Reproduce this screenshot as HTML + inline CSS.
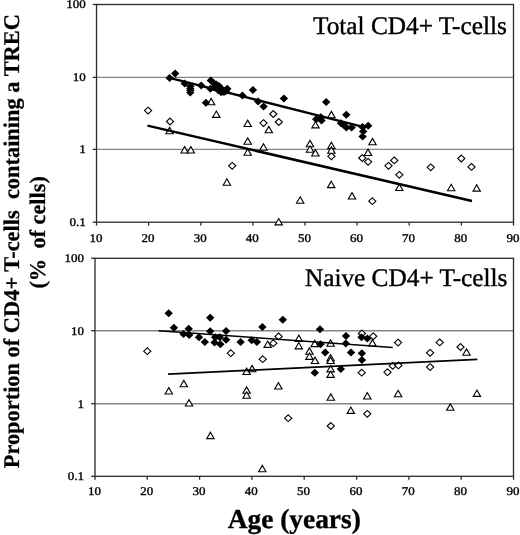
<!DOCTYPE html>
<html><head><meta charset="utf-8"><style>
html,body{margin:0;padding:0;background:#fff;}
body{width:520px;height:535px;overflow:hidden;}
svg{display:block;filter:grayscale(1) blur(0.3px);}
.g{stroke:#858585;stroke-width:1.4;}
.fr{fill:none;stroke:#2a2a2a;stroke-width:1.3;}
.a{stroke:#2a2a2a;stroke-width:1.3;}
.r1{stroke:#000;stroke-width:2.5;}
.r2{stroke:#000;stroke-width:1.7;}
.r3{stroke:#000;stroke-width:1.5;}
.f{fill:#000;stroke:none;}
.o{fill:#fff;stroke:#000;stroke-width:1.1;stroke-linejoin:miter;}
text{font-family:"Liberation Serif",serif;fill:#000;text-rendering:geometricPrecision;}
.t{font-size:11.8px;stroke:#000;stroke-width:0.35px;}
.title{font-size:25.3px;stroke:#000;stroke-width:0.4px;}
.yl{font-size:22.4px;font-weight:bold;stroke:#000;stroke-width:0.25px;}
.yl2{font-size:22.3px;font-weight:bold;stroke:#000;stroke-width:0.25px;}
.xl{font-size:27.4px;font-weight:bold;stroke:#000;stroke-width:0.35px;}
</style></head><body>
<svg width="520" height="535" viewBox="0 0 520 535">
<rect width="520" height="535" fill="#fff"/>
<line x1="96.5" y1="77.4" x2="513.5" y2="77.4" class="g"/>
<line x1="96.5" y1="149.4" x2="513.5" y2="149.4" class="g"/>
<rect x="96.5" y="4.5" width="417.0" height="217.7" class="fr"/>
<line x1="92.7" y1="4.5" x2="96.5" y2="4.5" class="a"/>
<line x1="92.7" y1="77.4" x2="96.5" y2="77.4" class="a"/>
<line x1="92.7" y1="149.4" x2="96.5" y2="149.4" class="a"/>
<line x1="92.7" y1="222.2" x2="96.5" y2="222.2" class="a"/>
<line x1="96.5" y1="222.2" x2="96.5" y2="225.6" class="a"/>
<line x1="148.6" y1="222.2" x2="148.6" y2="225.6" class="a"/>
<line x1="200.8" y1="222.2" x2="200.8" y2="225.6" class="a"/>
<line x1="252.9" y1="222.2" x2="252.9" y2="225.6" class="a"/>
<line x1="305.0" y1="222.2" x2="305.0" y2="225.6" class="a"/>
<line x1="357.1" y1="222.2" x2="357.1" y2="225.6" class="a"/>
<line x1="409.2" y1="222.2" x2="409.2" y2="225.6" class="a"/>
<line x1="461.4" y1="222.2" x2="461.4" y2="225.6" class="a"/>
<line x1="513.5" y1="222.2" x2="513.5" y2="225.6" class="a"/>
<text transform="translate(85.8,8.4) scale(1.1,1)" class="t" text-anchor="end">100</text>
<text transform="translate(85.8,81.3) scale(1.1,1)" class="t" text-anchor="end">10</text>
<text transform="translate(85.8,153.3) scale(1.1,1)" class="t" text-anchor="end">1</text>
<text transform="translate(85.8,226.1) scale(1.1,1)" class="t" text-anchor="end">0.1</text>
<text transform="translate(95.9,242.4) scale(1.1,1)" class="t" text-anchor="middle">10</text>
<text transform="translate(148.0,242.4) scale(1.1,1)" class="t" text-anchor="middle">20</text>
<text transform="translate(200.2,242.4) scale(1.1,1)" class="t" text-anchor="middle">30</text>
<text transform="translate(252.3,242.4) scale(1.1,1)" class="t" text-anchor="middle">40</text>
<text transform="translate(304.4,242.4) scale(1.1,1)" class="t" text-anchor="middle">50</text>
<text transform="translate(356.5,242.4) scale(1.1,1)" class="t" text-anchor="middle">60</text>
<text transform="translate(408.6,242.4) scale(1.1,1)" class="t" text-anchor="middle">70</text>
<text transform="translate(460.8,242.4) scale(1.1,1)" class="t" text-anchor="middle">80</text>
<text transform="translate(512.9,242.4) scale(1.1,1)" class="t" text-anchor="middle">90</text>
<text x="313" y="33.6" class="title">Total CD4+ T-cells</text>
<line x1="95.0" y1="330.7" x2="513.5" y2="330.7" class="g"/>
<line x1="95.0" y1="403.7" x2="513.5" y2="403.7" class="g"/>
<rect x="95.0" y="258.3" width="418.5" height="218.0" class="fr"/>
<line x1="91.2" y1="258.3" x2="95.0" y2="258.3" class="a"/>
<line x1="91.2" y1="330.7" x2="95.0" y2="330.7" class="a"/>
<line x1="91.2" y1="403.7" x2="95.0" y2="403.7" class="a"/>
<line x1="91.2" y1="476.3" x2="95.0" y2="476.3" class="a"/>
<line x1="95.0" y1="476.3" x2="95.0" y2="479.7" class="a"/>
<line x1="147.3" y1="476.3" x2="147.3" y2="479.7" class="a"/>
<line x1="199.6" y1="476.3" x2="199.6" y2="479.7" class="a"/>
<line x1="251.9" y1="476.3" x2="251.9" y2="479.7" class="a"/>
<line x1="304.2" y1="476.3" x2="304.2" y2="479.7" class="a"/>
<line x1="356.6" y1="476.3" x2="356.6" y2="479.7" class="a"/>
<line x1="408.9" y1="476.3" x2="408.9" y2="479.7" class="a"/>
<line x1="461.2" y1="476.3" x2="461.2" y2="479.7" class="a"/>
<line x1="513.5" y1="476.3" x2="513.5" y2="479.7" class="a"/>
<text transform="translate(84.0,262.2) scale(1.1,1)" class="t" text-anchor="end">100</text>
<text transform="translate(84.0,334.6) scale(1.1,1)" class="t" text-anchor="end">10</text>
<text transform="translate(84.0,407.6) scale(1.1,1)" class="t" text-anchor="end">1</text>
<text transform="translate(84.0,480.2) scale(1.1,1)" class="t" text-anchor="end">0.1</text>
<text transform="translate(94.4,495.0) scale(1.1,1)" class="t" text-anchor="middle">10</text>
<text transform="translate(146.7,495.0) scale(1.1,1)" class="t" text-anchor="middle">20</text>
<text transform="translate(199.0,495.0) scale(1.1,1)" class="t" text-anchor="middle">30</text>
<text transform="translate(251.3,495.0) scale(1.1,1)" class="t" text-anchor="middle">40</text>
<text transform="translate(303.6,495.0) scale(1.1,1)" class="t" text-anchor="middle">50</text>
<text transform="translate(356.0,495.0) scale(1.1,1)" class="t" text-anchor="middle">60</text>
<text transform="translate(408.3,495.0) scale(1.1,1)" class="t" text-anchor="middle">70</text>
<text transform="translate(460.6,495.0) scale(1.1,1)" class="t" text-anchor="middle">80</text>
<text transform="translate(512.9,495.0) scale(1.1,1)" class="t" text-anchor="middle">90</text>
<text x="304.9" y="286.3" class="title">Naive CD4+ T-cells</text>
<path d="M148.1 107.2L151.7 110.6L148.1 114.0L144.5 110.6Z" class="o"/>
<path d="M170.0 118.1L173.6 121.5L170.0 124.9L166.4 121.5Z" class="o"/>
<path d="M232.2 162.4L235.8 165.8L232.2 169.2L228.6 165.8Z" class="o"/>
<path d="M263.5 119.7L267.1 123.1L263.5 126.5L259.9 123.1Z" class="o"/>
<path d="M273.3 110.6L276.9 114.0L273.3 117.4L269.7 114.0Z" class="o"/>
<path d="M278.8 118.6L282.4 122.0L278.8 125.4L275.2 122.0Z" class="o"/>
<path d="M331.4 152.9L335.0 156.3L331.4 159.7L327.8 156.3Z" class="o"/>
<path d="M362.3 154.6L365.9 158.0L362.3 161.4L358.7 158.0Z" class="o"/>
<path d="M368.1 158.4L371.7 161.8L368.1 165.2L364.5 161.8Z" class="o"/>
<path d="M372.3 197.8L375.9 201.2L372.3 204.6L368.7 201.2Z" class="o"/>
<path d="M388.5 162.4L392.1 165.8L388.5 169.2L384.9 165.8Z" class="o"/>
<path d="M394.2 157.0L397.8 160.4L394.2 163.8L390.6 160.4Z" class="o"/>
<path d="M399.3 171.4L402.9 174.8L399.3 178.2L395.7 174.8Z" class="o"/>
<path d="M430.7 163.9L434.3 167.3L430.7 170.7L427.1 167.3Z" class="o"/>
<path d="M461.3 155.1L464.9 158.5L461.3 161.9L457.7 158.5Z" class="o"/>
<path d="M471.5 163.5L475.1 166.9L471.5 170.3L467.9 166.9Z" class="o"/>
<path d="M169.6 127.4L173.3 133.8L165.9 133.8Z" class="o"/>
<path d="M184.6 146.6L188.3 153.0L180.9 153.0Z" class="o"/>
<path d="M190.8 146.6L194.5 153.0L187.1 153.0Z" class="o"/>
<path d="M211.1 98.4L214.8 104.8L207.4 104.8Z" class="o"/>
<path d="M216.3 111.0L220.0 117.4L212.6 117.4Z" class="o"/>
<path d="M226.9 178.8L230.6 185.2L223.2 185.2Z" class="o"/>
<path d="M247.7 120.1L251.4 126.5L244.0 126.5Z" class="o"/>
<path d="M247.7 137.9L251.4 144.3L244.0 144.3Z" class="o"/>
<path d="M247.7 148.9L251.4 155.3L244.0 155.3Z" class="o"/>
<path d="M263.5 143.7L267.2 150.1L259.8 150.1Z" class="o"/>
<path d="M268.8 126.4L272.5 132.8L265.1 132.8Z" class="o"/>
<path d="M278.7 218.5L282.4 224.9L275.0 224.9Z" class="o"/>
<path d="M300.2 196.8L303.9 203.2L296.5 203.2Z" class="o"/>
<path d="M310.0 140.4L313.7 146.8L306.3 146.8Z" class="o"/>
<path d="M310.0 145.8L313.7 152.2L306.3 152.2Z" class="o"/>
<path d="M315.5 121.5L319.2 127.9L311.8 127.9Z" class="o"/>
<path d="M315.4 149.6L319.1 156.0L311.7 156.0Z" class="o"/>
<path d="M331.4 111.4L335.1 117.8L327.7 117.8Z" class="o"/>
<path d="M331.4 142.2L335.1 148.6L327.7 148.6Z" class="o"/>
<path d="M331.4 146.9L335.1 153.3L327.7 153.3Z" class="o"/>
<path d="M331.2 181.2L334.9 187.6L327.5 187.6Z" class="o"/>
<path d="M352.0 192.6L355.7 199.0L348.3 199.0Z" class="o"/>
<path d="M368.0 149.1L371.7 155.5L364.3 155.5Z" class="o"/>
<path d="M372.5 138.4L376.2 144.8L368.8 144.8Z" class="o"/>
<path d="M399.3 184.1L403.0 190.5L395.6 190.5Z" class="o"/>
<path d="M451.2 184.3L454.9 190.7L447.5 190.7Z" class="o"/>
<path d="M476.7 184.7L480.4 191.1L473.0 191.1Z" class="o"/>
<path d="M169.6 74.1L173.8 78.1L169.6 82.1L165.4 78.1ZM175.2 69.5L179.4 73.5L175.2 77.5L171.0 73.5ZM184.7 79.4L188.9 83.4L184.7 87.4L180.5 83.4ZM190.3 82.4L194.5 86.4L190.3 90.4L186.1 86.4ZM201.2 81.6L205.4 85.6L201.2 89.6L197.0 85.6ZM210.8 76.4L215.0 80.4L210.8 84.4L206.6 80.4ZM210.4 84.8L214.6 88.8L210.4 92.8L206.2 88.8ZM216.2 80.4L220.4 84.4L216.2 88.4L212.0 84.4ZM221.2 88.2L225.4 92.2L221.2 96.2L217.0 92.2ZM221.5 84.8L225.7 88.8L221.5 92.8L217.3 88.8ZM227.3 84.8L231.5 88.8L227.3 92.8L223.1 88.8ZM205.9 98.7L210.1 102.7L205.9 106.7L201.7 102.7ZM242.4 91.5L246.6 95.5L242.4 99.5L238.2 95.5ZM252.9 85.9L257.1 89.9L252.9 93.9L248.7 89.9ZM258.1 97.4L262.3 101.4L258.1 105.4L253.9 101.4ZM263.6 102.5L267.8 106.5L263.6 110.5L259.4 106.5ZM283.9 94.5L288.1 98.5L283.9 102.5L279.7 98.5ZM326.2 98.0L330.4 102.0L326.2 106.0L322.0 102.0ZM346.3 110.7L350.5 114.7L346.3 118.7L342.1 114.7ZM316.2 115.2L320.4 119.2L316.2 123.2L312.0 119.2ZM320.9 113.2L325.1 117.2L320.9 121.2L316.7 117.2ZM321.5 116.6L325.7 120.6L321.5 124.6L317.3 120.6ZM341.0 119.2L345.2 123.2L341.0 127.2L336.8 123.2ZM346.4 123.5L350.6 127.5L346.4 131.5L342.2 127.5ZM351.6 123.5L355.8 127.5L351.6 131.5L347.4 127.5ZM362.5 123.0L366.7 127.0L362.5 131.0L358.3 127.0ZM368.2 121.8L372.4 125.8L368.2 129.8L364.0 125.8ZM363.2 127.5L367.4 131.5L363.2 135.5L359.0 131.5ZM362.6 132.6L366.8 136.6L362.6 140.6L358.4 136.6ZM190.3 84.4L194.5 88.4L190.3 92.4L186.1 88.4ZM190.3 86.5L194.5 90.5L190.3 94.5L186.1 90.5ZM190.3 88.6L194.5 92.6L190.3 96.6L186.1 92.6ZM214.0 83.5L218.2 87.5L214.0 91.5L209.8 87.5ZM213.4 78.8L217.6 82.8L213.4 86.8L209.2 82.8ZM218.0 86.0L222.2 90.0L218.0 94.0L213.8 90.0ZM224.0 88.0L228.2 92.0L224.0 96.0L219.8 92.0ZM219.0 82.0L223.2 86.0L219.0 90.0L214.8 86.0ZM226.0 87.0L230.2 91.0L226.0 95.0L221.8 91.0ZM343.8 121.3L348.0 125.3L343.8 129.3L339.6 125.3Z" class="f"/>
<path d="M147.3 347.8L150.9 351.2L147.3 354.6L143.7 351.2Z" class="o"/>
<path d="M230.8 349.8L234.4 353.2L230.8 356.6L227.2 353.2Z" class="o"/>
<path d="M262.7 355.8L266.3 359.2L262.7 362.6L259.1 359.2Z" class="o"/>
<path d="M273.3 339.8L276.9 343.2L273.3 346.6L269.7 343.2Z" class="o"/>
<path d="M278.6 333.0L282.2 336.4L278.6 339.8L275.0 336.4Z" class="o"/>
<path d="M288.2 414.8L291.8 418.2L288.2 421.6L284.6 418.2Z" class="o"/>
<path d="M330.8 422.6L334.4 426.0L330.8 429.4L327.2 426.0Z" class="o"/>
<path d="M361.9 330.1L365.5 333.5L361.9 336.9L358.3 333.5Z" class="o"/>
<path d="M373.2 332.9L376.8 336.3L373.2 339.7L369.6 336.3Z" class="o"/>
<path d="M398.1 339.2L401.7 342.6L398.1 346.0L394.5 342.6Z" class="o"/>
<path d="M361.7 369.3L365.3 372.7L361.7 376.1L358.1 372.7Z" class="o"/>
<path d="M387.5 368.8L391.1 372.2L387.5 375.6L383.9 372.2Z" class="o"/>
<path d="M392.7 362.4L396.3 365.8L392.7 369.2L389.1 365.8Z" class="o"/>
<path d="M398.4 362.0L402.0 365.4L398.4 368.8L394.8 365.4Z" class="o"/>
<path d="M367.3 410.4L370.9 413.8L367.3 417.2L363.7 413.8Z" class="o"/>
<path d="M430.1 349.4L433.7 352.8L430.1 356.2L426.5 352.8Z" class="o"/>
<path d="M430.1 363.7L433.7 367.1L430.1 370.5L426.5 367.1Z" class="o"/>
<path d="M439.7 339.0L443.3 342.4L439.7 345.8L436.1 342.4Z" class="o"/>
<path d="M460.5 343.6L464.1 347.0L460.5 350.4L456.9 347.0Z" class="o"/>
<path d="M168.8 387.6L172.5 394.0L165.1 394.0Z" class="o"/>
<path d="M183.8 380.4L187.5 386.8L180.1 386.8Z" class="o"/>
<path d="M189.0 399.6L192.7 406.0L185.3 406.0Z" class="o"/>
<path d="M210.4 432.2L214.1 438.6L206.7 438.6Z" class="o"/>
<path d="M246.6 368.1L250.3 374.5L242.9 374.5Z" class="o"/>
<path d="M252.1 365.4L255.8 371.8L248.4 371.8Z" class="o"/>
<path d="M246.6 386.9L250.3 393.3L242.9 393.3Z" class="o"/>
<path d="M246.6 391.8L250.3 398.2L242.9 398.2Z" class="o"/>
<path d="M262.3 465.4L266.0 471.8L258.6 471.8Z" class="o"/>
<path d="M267.7 341.0L271.4 347.4L264.0 347.4Z" class="o"/>
<path d="M278.4 382.6L282.1 389.0L274.7 389.0Z" class="o"/>
<path d="M298.8 335.1L302.5 341.5L295.1 341.5Z" class="o"/>
<path d="M298.8 342.5L302.5 348.9L295.1 348.9Z" class="o"/>
<path d="M314.7 340.2L318.4 346.6L311.0 346.6Z" class="o"/>
<path d="M330.6 339.9L334.3 346.3L326.9 346.3Z" class="o"/>
<path d="M309.4 347.9L313.1 354.3L305.7 354.3Z" class="o"/>
<path d="M309.4 353.0L313.1 359.4L305.7 359.4Z" class="o"/>
<path d="M315.0 357.1L318.7 363.5L311.3 363.5Z" class="o"/>
<path d="M330.6 354.5L334.3 360.9L326.9 360.9Z" class="o"/>
<path d="M330.6 357.1L334.3 363.5L326.9 363.5Z" class="o"/>
<path d="M330.6 365.5L334.3 371.9L326.9 371.9Z" class="o"/>
<path d="M330.6 371.0L334.3 377.4L326.9 377.4Z" class="o"/>
<path d="M330.8 393.9L334.5 400.3L327.1 400.3Z" class="o"/>
<path d="M350.8 407.0L354.5 413.4L347.1 413.4Z" class="o"/>
<path d="M367.3 392.6L371.0 399.0L363.6 399.0Z" class="o"/>
<path d="M372.4 339.6L376.1 346.0L368.7 346.0Z" class="o"/>
<path d="M398.1 390.3L401.8 396.7L394.4 396.7Z" class="o"/>
<path d="M450.3 403.9L454.0 410.3L446.6 410.3Z" class="o"/>
<path d="M466.5 348.9L470.2 355.3L462.8 355.3Z" class="o"/>
<path d="M476.9 390.0L480.6 396.4L473.2 396.4Z" class="o"/>
<path d="M168.7 309.3L172.9 313.3L168.7 317.3L164.5 313.3ZM173.9 323.7L178.1 327.7L173.9 331.7L169.7 327.7ZM183.5 329.9L187.7 333.9L183.5 337.9L179.3 333.9ZM188.7 324.7L192.9 328.7L188.7 332.7L184.5 328.7ZM189.2 331.0L193.4 335.0L189.2 339.0L185.0 335.0ZM199.0 333.3L203.2 337.3L199.0 341.3L194.8 337.3ZM204.8 338.1L209.0 342.1L204.8 346.1L200.6 342.1ZM210.2 313.8L214.4 317.8L210.2 321.8L206.0 317.8ZM210.2 327.2L214.4 331.2L210.2 335.2L206.0 331.2ZM215.2 333.3L219.4 337.3L215.2 341.3L211.0 337.3ZM214.6 338.5L218.8 342.5L214.6 346.5L210.4 342.5ZM219.8 333.3L224.0 337.3L219.8 341.3L215.6 337.3ZM220.4 340.2L224.6 344.2L220.4 348.2L216.2 344.2ZM226.1 327.0L230.3 331.0L226.1 335.0L221.9 331.0ZM226.1 335.8L230.3 339.8L226.1 343.8L221.9 339.8ZM240.6 338.0L244.8 342.0L240.6 346.0L236.4 342.0ZM251.7 336.2L255.9 340.2L251.7 344.2L247.5 340.2ZM256.9 338.1L261.1 342.1L256.9 346.1L252.7 342.1ZM262.4 323.0L266.6 327.0L262.4 331.0L258.2 327.0ZM282.8 315.7L287.0 319.7L282.8 323.7L278.6 319.7ZM320.0 325.2L324.2 329.2L320.0 333.2L315.8 329.2ZM320.5 340.2L324.7 344.2L320.5 348.2L316.3 344.2ZM325.2 348.6L329.4 352.6L325.2 356.6L321.0 352.6ZM346.0 331.9L350.2 335.9L346.0 339.9L341.8 335.9ZM345.8 339.6L350.0 343.6L345.8 347.6L341.6 343.6ZM340.8 364.9L345.0 368.9L340.8 372.9L336.6 368.9ZM314.8 368.8L319.0 372.8L314.8 376.8L310.6 372.8ZM351.0 348.6L355.2 352.6L351.0 356.6L346.8 352.6ZM361.5 333.3L365.7 337.3L361.5 341.3L357.3 337.3ZM367.3 334.5L371.5 338.5L367.3 342.5L363.1 338.5ZM361.9 349.3L366.1 353.3L361.9 357.3L357.7 353.3ZM361.9 356.0L366.1 360.0L361.9 364.0L357.7 360.0Z" class="f"/>
<line x1="169.5" y1="77.9" x2="366" y2="127.6" class="r1"/>
<line x1="147.5" y1="125.6" x2="472" y2="201" class="r1"/>
<line x1="158.5" y1="330.8" x2="392.7" y2="347.4" class="r3"/>
<line x1="168.1" y1="374.2" x2="477.4" y2="359.3" class="r2"/>
<text transform="translate(18.5,468.3) rotate(-90)" class="yl">Proportion of CD4+ T-cells&#160;&#160;containing a TREC</text>
<text transform="translate(45.2,288.6) rotate(-90)" class="yl">(%</text>
<text transform="translate(45.2,248.6) rotate(-90)" class="yl2">of cells)</text>
<text x="227.7" y="527.7" class="xl">Age (years)</text>
</svg>
</body></html>
